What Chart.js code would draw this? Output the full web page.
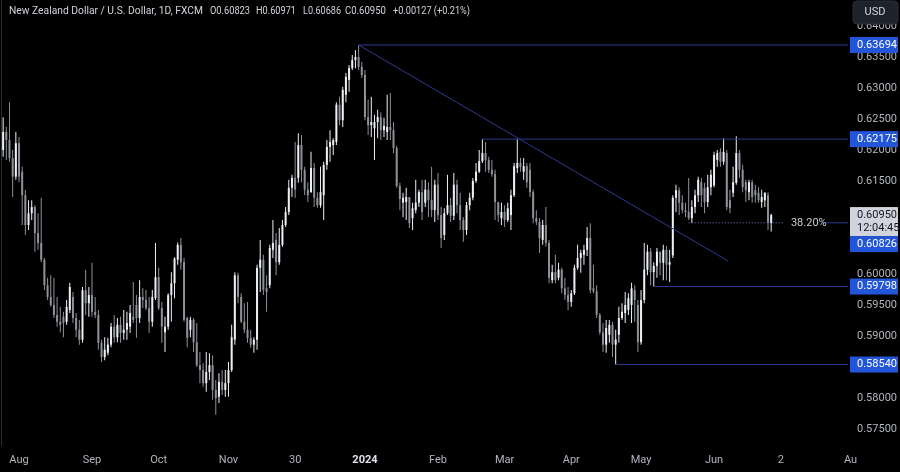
<!DOCTYPE html>
<html>
<head>
<meta charset="utf-8">
<script src="https://cdn.jsdelivr.net/npm/chart.js@4.4.1/dist/chart.umd.min.js"></script>
<style>
  html, body { margin: 0; padding: 0; background: #000; }
  #wrap { width: 900px; height: 472px; position: relative; }
</style>
</head>
<body>
<div id="wrap"><canvas id="chart" width="900" height="472"></canvas></div>
<script>
// NZDUSD daily, 25 Jul 2023 -> 27 Jun 2024 (one entry per trading day)
const opens = [
  0.6200, 0.6229, 0.6216, 0.6187, 0.6157, 0.6211, 0.6165, 0.6127, 0.6079, 0.6098,
  0.6108, 0.6066, 0.6050, 0.6023, 0.5982, 0.5963, 0.5950, 0.5934, 0.5923, 0.5931,
  0.5923, 0.5942, 0.5963, 0.5929, 0.5910, 0.5894, 0.5974, 0.5953, 0.5966, 0.5939,
  0.5934, 0.5889, 0.5866, 0.5873, 0.5886, 0.5915, 0.5898, 0.5918, 0.5905, 0.5910,
  0.5915, 0.5931, 0.5950, 0.5929, 0.5963, 0.5958, 0.5945, 0.5923, 0.5961, 0.5995,
  0.5945, 0.5906, 0.5915, 0.5966, 0.5985, 0.6023, 0.6047, 0.6019, 0.5929, 0.5910,
  0.5926, 0.5890, 0.5853, 0.5845, 0.5824, 0.5842, 0.5853, 0.5813, 0.5802, 0.5826,
  0.5813, 0.5824, 0.5845, 0.5894, 0.5998, 0.5963, 0.5923, 0.5910, 0.5897, 0.5886,
  0.5894, 0.6010, 0.6023, 0.5977, 0.5982, 0.6039, 0.6055, 0.6019, 0.6047, 0.6079,
  0.6100, 0.6139, 0.6155, 0.6155, 0.6208, 0.6168, 0.6136, 0.6132, 0.6171, 0.6123,
  0.6111, 0.6127, 0.6176, 0.6205, 0.6208, 0.6213, 0.6273, 0.6248, 0.6289, 0.6313,
  0.6332, 0.6345, 0.6350, 0.6334, 0.6321, 0.6253, 0.6240, 0.6235, 0.6245, 0.6253,
  0.6232, 0.6229, 0.6237, 0.6232, 0.6203, 0.6142, 0.6115, 0.6116, 0.6124, 0.6090,
  0.6103, 0.6115, 0.6132, 0.6115, 0.6136, 0.6119, 0.6103, 0.6144, 0.6095, 0.6063,
  0.6098, 0.6111, 0.6094, 0.6144, 0.6111, 0.6087, 0.6071, 0.6111, 0.6123, 0.6150,
  0.6165, 0.6182, 0.6195, 0.6184, 0.6168, 0.6161, 0.6116, 0.6090, 0.6100, 0.6087,
  0.6095, 0.6127, 0.6171, 0.6179, 0.6165, 0.6174, 0.6168, 0.6132, 0.6090, 0.6084,
  0.6055, 0.6079, 0.6050, 0.5990, 0.6003, 0.5994, 0.6007, 0.5977, 0.5966, 0.5955,
  0.5969, 0.6010, 0.6026, 0.6031, 0.6039, 0.6058, 0.5977, 0.5972, 0.5934, 0.5906,
  0.5886, 0.5902, 0.5918, 0.5886, 0.5902, 0.5929, 0.5937, 0.5942, 0.5950, 0.5974,
  0.5950, 0.5890, 0.5958, 0.6007, 0.6036, 0.6003, 0.6013, 0.6036, 0.6018, 0.6039,
  0.6015, 0.6030, 0.6123, 0.6135, 0.6115, 0.6103, 0.6100, 0.6090, 0.6108, 0.6127,
  0.6148, 0.6139, 0.6116, 0.6140, 0.6143, 0.6184, 0.6197, 0.6181, 0.6195, 0.6119,
  0.6131, 0.6147, 0.6195, 0.6168, 0.6148, 0.6132, 0.6148, 0.6135, 0.6131, 0.6116,
  0.6119, 0.6127, 0.60823
];
const highs = [
  0.6253, 0.6237, 0.6277, 0.6200, 0.6229, 0.6221, 0.6173, 0.6136, 0.6119, 0.6119,
  0.6111, 0.6098, 0.6123, 0.6026, 0.5994, 0.5998, 0.5994, 0.5963, 0.5947, 0.5939,
  0.5958, 0.5986, 0.5971, 0.5937, 0.5926, 0.5979, 0.6007, 0.5979, 0.6018, 0.5963,
  0.5942, 0.5894, 0.5898, 0.5897, 0.5921, 0.5934, 0.5929, 0.5931, 0.5942, 0.5939,
  0.5950, 0.5987, 0.5966, 0.5990, 0.5977, 0.5974, 0.5963, 0.5974, 0.6050, 0.6010,
  0.5955, 0.5931, 0.5969, 0.6003, 0.6027, 0.6051, 0.6058, 0.6026, 0.5931, 0.5931,
  0.5929, 0.5921, 0.5874, 0.5856, 0.5874, 0.5872, 0.5869, 0.5829, 0.5840, 0.5845,
  0.5845, 0.5858, 0.5918, 0.6003, 0.6002, 0.5969, 0.5953, 0.5955, 0.5910, 0.5898,
  0.6015, 0.6055, 0.6031, 0.5998, 0.6047, 0.6087, 0.6066, 0.6074, 0.6087, 0.6108,
  0.6152, 0.6160, 0.6213, 0.6227, 0.6224, 0.6173, 0.6148, 0.6197, 0.6179, 0.6132,
  0.6173, 0.6181, 0.6216, 0.6232, 0.6219, 0.6277, 0.6286, 0.6302, 0.6324, 0.6337,
  0.6353, 0.6361, 0.6369, 0.6342, 0.6329, 0.6281, 0.6286, 0.6257, 0.6265, 0.6261,
  0.6252, 0.6289, 0.6292, 0.6245, 0.6207, 0.6147, 0.6131, 0.6139, 0.6124, 0.6115,
  0.6152, 0.6136, 0.6152, 0.6152, 0.6148, 0.6173, 0.6152, 0.6163, 0.6108, 0.6106,
  0.6160, 0.6123, 0.6163, 0.6152, 0.6131, 0.6092, 0.6116, 0.6131, 0.6155, 0.6179,
  0.6200, 0.62175, 0.6213, 0.6189, 0.6184, 0.6168, 0.6116, 0.6115, 0.6111, 0.6115,
  0.6136, 0.6179, 0.6218, 0.6187, 0.6187, 0.6179, 0.6179, 0.6136, 0.6103, 0.6090,
  0.6087, 0.6108, 0.6055, 0.6015, 0.6031, 0.6018, 0.6010, 0.5994, 0.5979, 0.5974,
  0.6015, 0.6047, 0.6039, 0.6047, 0.6076, 0.6082, 0.6015, 0.5982, 0.5937, 0.5921,
  0.5926, 0.5926, 0.5923, 0.5910, 0.5947, 0.5953, 0.5971, 0.5969, 0.5986, 0.5982,
  0.5958, 0.5974, 0.6050, 0.6047, 0.6042, 0.6019, 0.6042, 0.6036, 0.6047, 0.6045,
  0.6039, 0.6127, 0.6144, 0.6140, 0.6127, 0.6115, 0.6155, 0.6119, 0.6136, 0.6157,
  0.6155, 0.6147, 0.6160, 0.6168, 0.6197, 0.6200, 0.6203, 0.6219, 0.6200, 0.6136,
  0.6173, 0.6222, 0.6200, 0.6176, 0.6152, 0.6152, 0.6152, 0.6144, 0.6140, 0.6136,
  0.6132, 0.6132, 0.60971
];
const lows = [
  0.6189, 0.6184, 0.6181, 0.6124, 0.6152, 0.6148, 0.6079, 0.6063, 0.6071, 0.6087,
  0.6036, 0.6039, 0.6019, 0.5974, 0.5958, 0.5947, 0.5929, 0.5915, 0.5906, 0.5898,
  0.5918, 0.5937, 0.5921, 0.5898, 0.5886, 0.5889, 0.5934, 0.5931, 0.5931, 0.5929,
  0.5878, 0.5858, 0.5861, 0.5869, 0.5882, 0.5889, 0.5890, 0.5889, 0.5894, 0.5894,
  0.5905, 0.5921, 0.5897, 0.5921, 0.5945, 0.5942, 0.5905, 0.5915, 0.5958, 0.5942,
  0.5889, 0.5874, 0.5910, 0.5923, 0.5961, 0.6015, 0.6007, 0.5923, 0.5882, 0.5898,
  0.5874, 0.5850, 0.5824, 0.5818, 0.5810, 0.5829, 0.5797, 0.5773, 0.5792, 0.5805,
  0.5802, 0.5802, 0.5842, 0.5886, 0.5953, 0.5921, 0.5905, 0.5889, 0.5881, 0.5873,
  0.5878, 0.5971, 0.5966, 0.5939, 0.5977, 0.6026, 0.5998, 0.6015, 0.6044, 0.6076,
  0.6095, 0.6124, 0.6123, 0.6147, 0.6148, 0.6127, 0.6116, 0.6131, 0.6108, 0.6107,
  0.6107, 0.6087, 0.6168, 0.6181, 0.6192, 0.6208, 0.6240, 0.6237, 0.6277, 0.6294,
  0.6329, 0.6332, 0.6329, 0.6316, 0.6248, 0.6224, 0.6221, 0.6184, 0.6219, 0.6216,
  0.6221, 0.6216, 0.6216, 0.6195, 0.6139, 0.6103, 0.6092, 0.6087, 0.6074, 0.6071,
  0.6098, 0.6108, 0.6087, 0.6108, 0.6092, 0.6092, 0.6084, 0.6087, 0.6042, 0.6055,
  0.6095, 0.6084, 0.6087, 0.6098, 0.6071, 0.6052, 0.6063, 0.6103, 0.6119, 0.6147,
  0.6163, 0.6179, 0.6165, 0.6163, 0.6157, 0.6087, 0.6084, 0.6079, 0.6076, 0.6084,
  0.6071, 0.6124, 0.6163, 0.6165, 0.6152, 0.6139, 0.6124, 0.6082, 0.6079, 0.6034,
  0.6047, 0.6044, 0.5985, 0.5985, 0.5985, 0.5990, 0.5969, 0.5958, 0.5942, 0.5947,
  0.5966, 0.6007, 0.6002, 0.6015, 0.6029, 0.5969, 0.5969, 0.5929, 0.5902, 0.5874,
  0.5873, 0.5889, 0.5866, 0.5854, 0.5889, 0.5926, 0.5921, 0.5934, 0.5921, 0.5923,
  0.5874, 0.5886, 0.5953, 0.5998, 0.5982, 0.5980, 0.5994, 0.5998, 0.5990, 0.5990,
  0.5987, 0.6026, 0.6100, 0.6095, 0.6098, 0.6092, 0.6087, 0.60826, 0.6098, 0.6116,
  0.6108, 0.6098, 0.6108, 0.6127, 0.6140, 0.6173, 0.6173, 0.6176, 0.6103, 0.6098,
  0.6124, 0.6144, 0.6155, 0.6132, 0.6116, 0.6119, 0.6115, 0.6115, 0.6115, 0.6107,
  0.6108, 0.6071, 0.60686
];
const closes = [
  0.6229, 0.6216, 0.6187, 0.6157, 0.6211, 0.6157, 0.6127, 0.6079, 0.6098, 0.6108,
  0.6066, 0.6050, 0.6023, 0.5982, 0.5963, 0.5950, 0.5934, 0.5923, 0.5918, 0.5921,
  0.5947, 0.5979, 0.5929, 0.5910, 0.5894, 0.5974, 0.5953, 0.5966, 0.5939, 0.5934,
  0.5889, 0.5866, 0.5878, 0.5886, 0.5915, 0.5898, 0.5918, 0.5905, 0.5910, 0.5921,
  0.5937, 0.5926, 0.5929, 0.5963, 0.5958, 0.5945, 0.5923, 0.5963, 0.5995, 0.5945,
  0.5915, 0.5915, 0.5966, 0.5985, 0.6025, 0.6047, 0.6019, 0.5926, 0.5897, 0.5926,
  0.5890, 0.5853, 0.5845, 0.5824, 0.5842, 0.5853, 0.5813, 0.5800, 0.5826, 0.5813,
  0.5824, 0.5845, 0.5898, 0.5998, 0.5963, 0.5923, 0.5910, 0.5897, 0.5886, 0.5894,
  0.6010, 0.6023, 0.5974, 0.5971, 0.6042, 0.6050, 0.6019, 0.6047, 0.6079, 0.6100,
  0.6139, 0.6155, 0.6136, 0.6208, 0.6168, 0.6136, 0.6127, 0.6171, 0.6123, 0.6111,
  0.6132, 0.6176, 0.6205, 0.6213, 0.6216, 0.6273, 0.6248, 0.6297, 0.6318, 0.6332,
  0.6345, 0.6350, 0.6334, 0.6321, 0.6253, 0.6240, 0.6245, 0.6245, 0.6253, 0.6232,
  0.6239, 0.6237, 0.6232, 0.6203, 0.6142, 0.6121, 0.6123, 0.6124, 0.6082, 0.6106,
  0.6115, 0.6132, 0.6100, 0.6136, 0.6119, 0.6103, 0.6144, 0.6095, 0.6058, 0.6098,
  0.6111, 0.6094, 0.6144, 0.6111, 0.6087, 0.6071, 0.6111, 0.6123, 0.6150, 0.6165,
  0.6182, 0.6195, 0.6184, 0.6168, 0.6161, 0.6116, 0.6095, 0.6100, 0.6087, 0.6106,
  0.6127, 0.6174, 0.6179, 0.6173, 0.6174, 0.6148, 0.6132, 0.6090, 0.6084, 0.6058,
  0.6079, 0.6050, 0.5994, 0.6003, 0.5990, 0.6007, 0.5977, 0.5966, 0.5955, 0.5969,
  0.6010, 0.6026, 0.6034, 0.6039, 0.6058, 0.5974, 0.5972, 0.5934, 0.5906, 0.5886,
  0.5913, 0.5918, 0.5886, 0.5894, 0.5929, 0.5939, 0.5950, 0.5961, 0.5977, 0.5958,
  0.5890, 0.5958, 0.6007, 0.6036, 0.6003, 0.6013, 0.6036, 0.6018, 0.6039, 0.6015,
  0.6019, 0.6123, 0.6135, 0.6115, 0.6103, 0.6100, 0.6090, 0.6108, 0.6127, 0.6152,
  0.6127, 0.6116, 0.6140, 0.6160, 0.6192, 0.6195, 0.6181, 0.6197, 0.6108, 0.6106,
  0.6148, 0.6195, 0.6168, 0.6140, 0.6135, 0.6148, 0.6124, 0.6127, 0.6119, 0.6124,
  0.6131, 0.6083, 0.60950
];

// time axis labels (bar index -> text)
const timeTickIdx = [5, 28, 49, 71, 92, 114, 137, 158, 179, 201, 224, 245, 267];
const timeTickText = ['Aug', 'Sep', 'Oct', 'Nov', '30', '2024', 'Feb', 'Mar', 'Apr', 'May', 'Jun', '2', 'Au'];

// price axis labels
const priceTicks = [0.575, 0.580, 0.585, 0.590, 0.595, 0.600, 0.605, 0.610, 0.615, 0.620, 0.625, 0.630, 0.635, 0.640];

// drawn levels: price and the bar where each ray starts
const levelPrices = [0.63694, 0.62175, 0.59798, 0.58540];
const levelStarts = [112, 151, 205, 193];
const fibPrice = 0.60826;
const fibStart = 216;
const fibEnd = 245.7;
const fibLabel = '38.20%';
const trendFrom = [112, 0.63694];
const trendTo = [228.4, 0.6021];

const xMin = -0.99, xMax = 266.2;
const yMin = 0.57226, yMax = 0.64419;

const UP = '#eceff4';
const DOWN = '#8e9199';
const LINE = '#2d3a91';
const AXIS_TXT = '#b2b5be';
const FONT = 'Roboto, "Noto Sans", sans-serif';

const candleColor = ctx => closes[ctx.dataIndex] >= opens[ctx.dataIndex] ? UP : DOWN;

const wickData = opens.map((o, i) => ({ x: i, y: [lows[i], highs[i]] }));
const bodyData = opens.map((o, i) => ({ x: i, y: [o, closes[i]] }));

const levelSets = levelPrices.map((p, k) => ({
  type: 'line',
  data: [{ x: levelStarts[k], y: p }, { x: xMax, y: p }],
  borderColor: LINE, borderWidth: 1, pointRadius: 0, order: 0
}));

// keep the plot flush with the canvas edges (no half-label padding)
const noPad = axis => {
  axis.paddingTop = 0; axis.paddingBottom = 0;
  axis.paddingLeft = 0; axis.paddingRight = 0;
};

const overlay = {
  id: 'overlay',
  afterDraw(chart) {
    const { ctx, chartArea } = chart;
    const xs = chart.scales.x, ys = chart.scales.y;
    ctx.save();

    // left frame line
    ctx.fillStyle = '#2a2e39';
    ctx.fillRect(1, 0, 1, chartArea.bottom);

    // header
    ctx.font = '11px ' + FONT;
    ctx.fillStyle = '#d1d4dc';
    ctx.textBaseline = 'middle';
    ctx.textAlign = 'left';
    const head = [
      ['New Zealand Dollar / U.S. Dollar, 1D, FXCM', 9, 194],
      ['O0.60823', 210, 40], ['H0.60971', 256, 40], ['L0.60686', 303, 38],
      ['C0.60950', 345, 41], ['+0.00127 (+0.21%)', 393, 77]
    ];
    head.forEach(([t, px, w]) => ctx.fillText(t, px, 11, w));

    // fib label
    const fy = ys.getPixelForValue(fibPrice);
    ctx.fillStyle = '#c9ccd4';
    ctx.fillText(fibLabel, xs.getPixelForValue(fibEnd) + 8, fy);

    // price axis tags
    const tag = (v, yy, bg, fg, lines) => {
      const h = lines.length * 13 + 3;
      ctx.fillStyle = bg;
      ctx.fillRect(850, yy - 8, 48, h);
      ctx.fillStyle = fg;
      lines.forEach((t, k) => ctx.fillText(t, 857, yy + k * 13));
      return yy - 8 + h;
    };
    levelPrices.forEach(p => tag(p, ys.getPixelForValue(p), '#2255d8', '#ffffff', [p.toFixed(5)]));
    const last = closes.length - 1;
    const priceBottom = tag(closes[last], ys.getPixelForValue(closes[last]), '#d1d4dc', '#131722',
      [closes[last].toFixed(5), '12:04:45']);
    tag(fibPrice, Math.max(ys.getPixelForValue(fibPrice), priceBottom + 8), '#2255d8', '#ffffff',
      [fibPrice.toFixed(5)]);

    // currency button
    ctx.fillStyle = '#1e222d';
    ctx.strokeStyle = '#2a2e39';
    ctx.beginPath();
    ctx.roundRect(853, 1, 45, 23, 4);
    ctx.fill();
    ctx.stroke();
    ctx.fillStyle = '#d1d4dc';
    ctx.textAlign = 'center';
    ctx.fillText('USD', 875, 12.5);
    ctx.restore();
  }
};

new Chart(document.getElementById('chart'), {
  type: 'bar',
  data: {
    datasets: [
      ...levelSets,
      {
        type: 'line',
        data: [{ x: trendFrom[0], y: trendFrom[1] }, { x: trendTo[0], y: trendTo[1] }],
        borderColor: LINE, borderWidth: 1, pointRadius: 0, order: 0
      },
      {
        type: 'line',
        data: [{ x: fibStart, y: fibPrice }, { x: fibEnd, y: fibPrice }],
        borderColor: '#6f7fd0', borderWidth: 1, borderDash: [1, 2], pointRadius: 0, order: 0
      },
      {
        type: 'line',
        data: [{ x: 258, y: fibPrice }, { x: xMax, y: fibPrice }],
        borderColor: LINE, borderWidth: 1, pointRadius: 0, order: 0
      },
      {
        data: wickData, backgroundColor: candleColor, barThickness: 1,
        grouped: false, inflateAmount: 0, borderWidth: 0, order: 2
      },
      {
        data: bodyData, backgroundColor: candleColor, barThickness: 2, minBarLength: 1,
        grouped: false, inflateAmount: 0, borderWidth: 0, order: 1
      }
    ]
  },
  options: {
    responsive: false,
    animation: false,
    devicePixelRatio: 1,
    layout: { padding: 0 },
    plugins: { legend: { display: false }, tooltip: { enabled: false }, title: { display: false } },
    scales: {
      x: {
        type: 'linear',
        min: xMin, max: xMax, offset: false,
        grid: { display: false, drawTicks: false },
        border: { display: false },
        afterBuildTicks: axis => { axis.ticks = timeTickIdx.map(v => ({ value: v })); },
        afterFit: axis => { axis.height = 26; noPad(axis); },
        ticks: {
          autoSkip: false, maxRotation: 0, padding: 8,
          color: ctx => ctx.tick && ctx.tick.value === 114 ? '#e0e3eb' : AXIS_TXT,
          font: ctx => ({ family: FONT, size: 11, weight: ctx.tick && ctx.tick.value === 114 ? 'bold' : 'normal' }),
          callback: v => timeTickText[timeTickIdx.indexOf(v)]
        }
      },
      y: {
        position: 'right',
        min: yMin, max: yMax,
        grid: { display: false, drawTicks: false },
        border: { display: false },
        afterBuildTicks: axis => { axis.ticks = priceTicks.map(v => ({ value: v })); },
        afterFit: axis => { axis.width = 52; noPad(axis); },
        ticks: {
          padding: 9, color: AXIS_TXT,
          font: { family: FONT, size: 11 },
          callback: v => v.toFixed(5)
        }
      }
    }
  },
  plugins: [overlay]
});
</script>
</body>
</html>
